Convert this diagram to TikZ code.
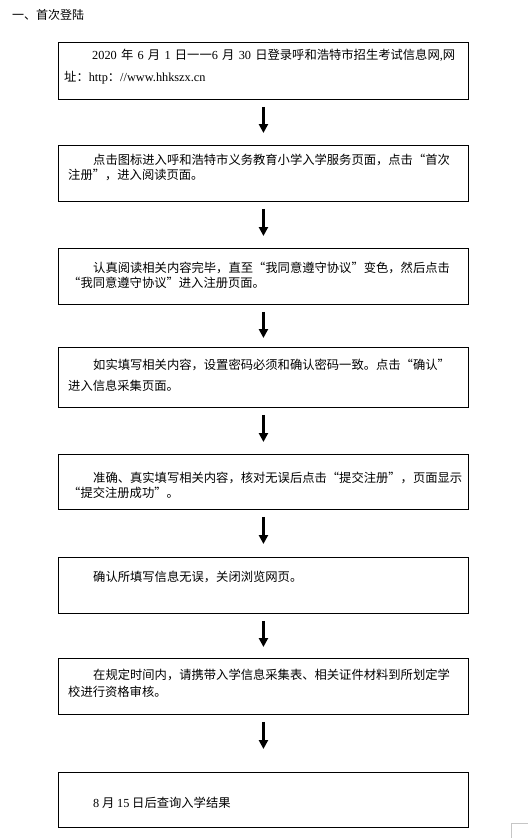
\documentclass[tikz,border=0pt]{standalone}
\usepackage{fontspec}
\setmainfont{Liberation Serif}
\newfontfamily\cjk{Noto Sans CJK SC}
\newfontfamily\latfont{Liberation Serif}
\newcommand\latn[1]{{\latfont #1}}
\XeTeXlinebreaklocale "zh"
\XeTeXlinebreakskip=0pt plus 1pt minus 1pt
\usetikzlibrary{arrows.meta}
\tikzset{
  box/.style={draw, line width=0.9pt, minimum width=410pt, anchor=north west, inner sep=0pt},
  ln/.style={anchor=base west, inner sep=0pt, font=\fontsize{12.3}{14}\cjk},
  arr/.style={line width=3pt, -{Triangle[width=9pt,length=9pt]}, shorten <=7pt}
}
\begin{document}
\begin{tikzpicture}[x=1pt,y=-1pt]
\fill[white] (0,0) rectangle (528,838);
\useasboundingbox (0,0) rectangle (528,838);
% title
\node[anchor=base west, inner sep=0pt, font=\fontsize{12}{14}\cjk] (title) at (12,19.5) {一、首次登陆};
% boxes
\node[box, minimum height=57pt] (b1) at (58,42) {};
\node[box, minimum height=56pt] (b2) at (58,145) {};
\node[box, minimum height=56pt] (b3) at (58,248) {};
\node[box, minimum height=60pt] (b4) at (58,347) {};
\node[box, minimum height=55pt] (b5) at (58,454) {};
\node[box, minimum height=56pt] (b6) at (58,557) {};
\node[box, minimum height=56pt] (b7) at (58,658) {};
\node[box, minimum height=55pt] (b8) at (58,772) {};
% arrows
\draw[arr, shorten >=12pt] (b1.south) -- (b2.north);
\draw[arr, shorten >=12pt] (b2.south) -- (b3.north);
\draw[arr, shorten >=9pt] (b3.south) -- (b4.north);
\draw[arr, shorten >=12pt] (b4.south) -- (b5.north);
\draw[arr, shorten >=13pt] (b5.south) -- (b6.north);
\draw[arr, shorten >=11pt] (b6.south) -- (b7.north);
\draw[arr, shorten >=23pt] (b7.south) -- (b8.north);
% texts
\node[ln] (t1a) at (92,59.5) {\makebox[363pt][s]{\latn{2020} 年 \latn{6} 月 \latn{1} 日一一\latn{6} 月 \latn{30} 日登录呼和浩特市招生考试信息网\latn{,}网}};
\node[ln] (t1b) at (64,81.5) {址：\latn{http}：\latn{//www.hhkszx.cn}};
\node[ln] (t2a) at (93,164.5) {\makebox[367pt][s]{点击图标进入呼和浩特市义务教育小学入学服务页面，点击“首次}};
\node[ln] (t2b) at (68,179.5) {注册”，进入阅读页面。};
\node[ln] (t3a) at (93,272.5) {\makebox[366pt][s]{认真阅读相关内容完毕，直至“我同意遵守协议”变色，然后点击}};
\node[ln] (t3b) at (68,287.5) {“我同意遵守协议”进入注册页面。};
\node[ln] (t4a) at (93,369.5) {\makebox[365pt][s]{如实填写相关内容，设置密码必须和确认密码一致。点击“确认”}};
\node[ln] (t4b) at (68,390.5) {进入信息采集页面。};
\node[ln] (t5a) at (93,482.5) {\makebox[369pt][s]{准确、真实填写相关内容，核对无误后点击“提交注册”，页面显示}};
\node[ln] (t5b) at (68,497.5) {“提交注册成功”。};
\node[ln] (t6a) at (93,581.5) {确认所填写信息无误，关闭浏览网页。};
\node[ln] (t7a) at (93,679.5) {\makebox[367pt][s]{在规定时间内，请携带入学信息采集表、相关证件材料到所划定学}};
\node[ln] (t7b) at (68,696.5) {校进行资格审核。};
\node[ln] (t8a) at (93,807.5) {\latn{8} 月 \latn{15} 日后查询入学结果};
% corner mark
\draw[gray!45, line width=0.8pt] (511,838) -- (511,823) -- (528,823);
\end{tikzpicture}
\end{document}
